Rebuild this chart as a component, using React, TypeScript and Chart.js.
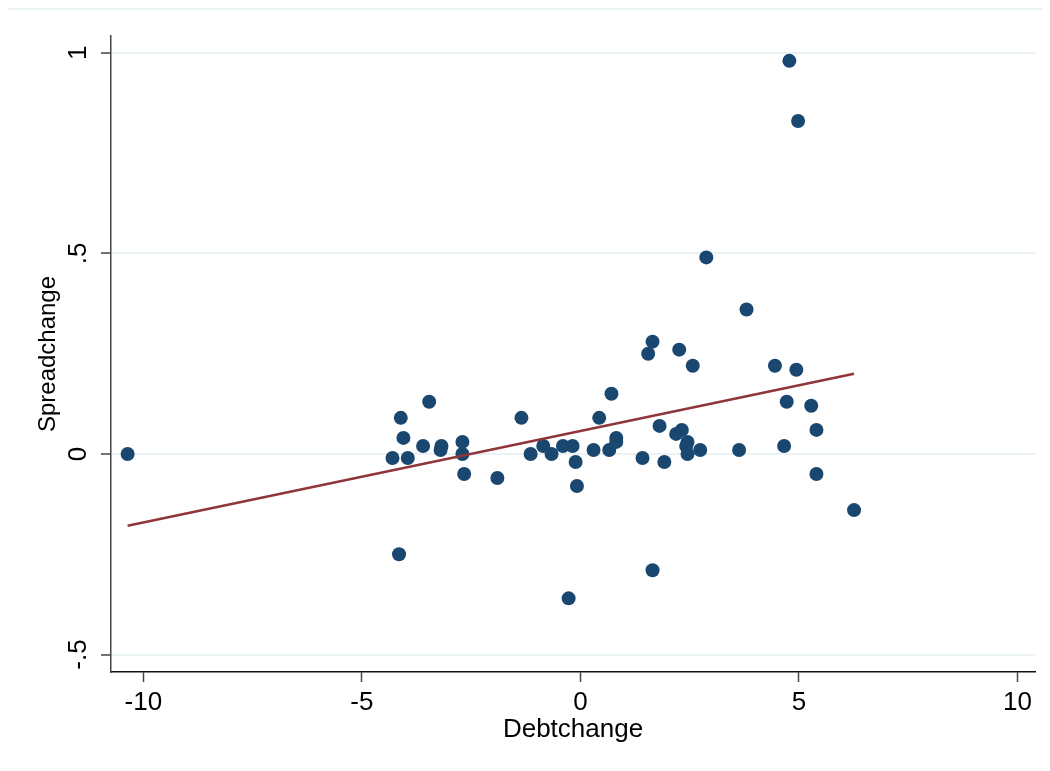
import React, { useEffect, useRef } from "react";
import { Chart, registerables } from "chart.js";

Chart.register(...registerables);

const debtChange: number[] = [
  -10.36, 4.78, 4.98, 2.88, 3.80, 1.65, 1.55, 2.26, 2.57, 4.45, 4.94, 0.71, 4.72, 5.28,
  5.40, 0.43, 1.81, 2.19, 2.32, 2.45, 2.42, 2.45, 2.74, 3.63, 4.66, 5.40, 1.42, 1.92,
  0.66, 0.82, 0.82, -3.46, -4.11, -4.05, -4.30, -3.95, -3.60, -3.18, -3.20, -2.70, -2.70,
  -2.66, -1.90, -1.35, -1.14, -0.85, -0.66, -0.40, -0.18, -0.11, -0.08, 0.30, -4.15,
  1.65, -0.27, 6.26,
];
const spreadChange: number[] = [
  0.0, 0.98, 0.83, 0.49, 0.36, 0.28, 0.25, 0.26, 0.22, 0.22, 0.21, 0.15, 0.13, 0.12,
  0.06, 0.09, 0.07, 0.05, 0.06, 0.03, 0.02, 0.0, 0.01, 0.01, 0.02, -0.05, -0.01, -0.02,
  0.01, 0.04, 0.03, 0.13, 0.09, 0.04, -0.01, -0.01, 0.02, 0.02, 0.01, 0.03, 0.0,
  -0.05, -0.06, 0.09, 0.0, 0.02, 0.0, 0.02, 0.02, -0.02, -0.08, 0.01, -0.25,
  -0.29, -0.36, -0.14,
];
const fitX: number[] = [-10.36, 6.26];
const fitY: number[] = [-0.179, 0.2];
const xTicks: number[] = [-10, -5, 0, 5, 10];
const yTicks: number[] = [-0.5, 0, 0.5, 1];

const fmtY = (v: number) => {
  if (v === 0) return "0";
  const s = String(Math.abs(v)).replace(/^0/, "");
  return (v < 0 ? "-" : "") + s;
};

const topLine = {
  id: "topLine",
  beforeDraw(chart: any) {
    const ctx = chart.ctx;
    ctx.save();
    ctx.strokeStyle = "#eaf2f3";
    ctx.lineWidth = 2;
    ctx.beginPath();
    ctx.moveTo(0, 1);
    ctx.lineTo(chart.width, 1);
    ctx.stroke();
    ctx.restore();
  },
};

export default function App() {
  const ref = useRef<HTMLCanvasElement | null>(null);
  useEffect(() => {
    if (!ref.current) return;
    const font = { family: "'Liberation Sans', Arial, sans-serif", size: 26 };
    const yTitleFont = { family: "'Liberation Sans', Arial, sans-serif", size: 24 };
    const chart = new Chart(ref.current, {
      type: "scatter",
      data: {
        datasets: [
          {
            type: "line",
            data: fitX.map((x, i) => ({ x, y: fitY[i] })),
            borderColor: "#90353b",
            borderWidth: 2.5,
            pointRadius: 0,
            fill: false,
            order: 0,
          } as any,
          {
            type: "scatter",
            data: debtChange.map((x, i) => ({ x, y: spreadChange[i] })),
            backgroundColor: "#1a476f",
            borderWidth: 0,
            pointRadius: 7,
            order: 1,
          },
        ],
      },
      options: {
        responsive: false,
        animation: false,
        layout: { padding: { top: 28, right: 7, bottom: 0, left: 0 } },
        plugins: { legend: { display: false }, tooltip: { enabled: false } },
        scales: {
          x: {
            type: "linear",
            min: -10.74,
            max: 10.4,
            afterBuildTicks: (s: any) => {
              s.ticks = xTicks.map((v) => ({ value: v }));
            },
            afterFit: (s: any) => {
              s.height = 91;
            },
            grid: {
              drawOnChartArea: false,
              drawTicks: true,
              tickLength: 10,
              tickColor: "#444",
              tickWidth: 1.5,
            },
            border: { color: "#111", width: 1.5 },
            ticks: { color: "#000", font, padding: 5, maxRotation: 0, callback: (v: any) => String(v) },
            title: { display: true, text: "Debtchange", color: "#000", font, padding: { top: 0, bottom: 18 } },
          },
          y: {
            type: "linear",
            min: -0.5436,
            max: 1.042,
            afterBuildTicks: (s: any) => {
              s.ticks = yTicks.map((v) => ({ value: v }));
            },
            afterFit: (s: any) => {
              s.width = 103;
            },
            grid: {
              color: "#eaf2f3",
              lineWidth: 2,
              drawTicks: true,
              tickLength: 10,
              tickColor: "#444",
              tickWidth: 1.5,
            },
            border: { color: "#444", width: 1.5 },
            ticks: {
              color: "#000",
              font,
              padding: 7,
              minRotation: 90,
              maxRotation: 90,
              crossAlign: "center",
              callback: (v: any) => fmtY(Number(v)),
            },
            title: { display: true, text: "Spreadchange", color: "#000", font: yTitleFont, padding: { top: 26, bottom: 0 } },
          },
        },
      },
      plugins: [topLine],
    } as any);
    return () => chart.destroy();
  }, []);
  return (
    <div style={{ width: 1034, height: 755 }}>
      <canvas ref={ref} width={1034} height={755} style={{ display: "block" }} />
    </div>
  );
}
